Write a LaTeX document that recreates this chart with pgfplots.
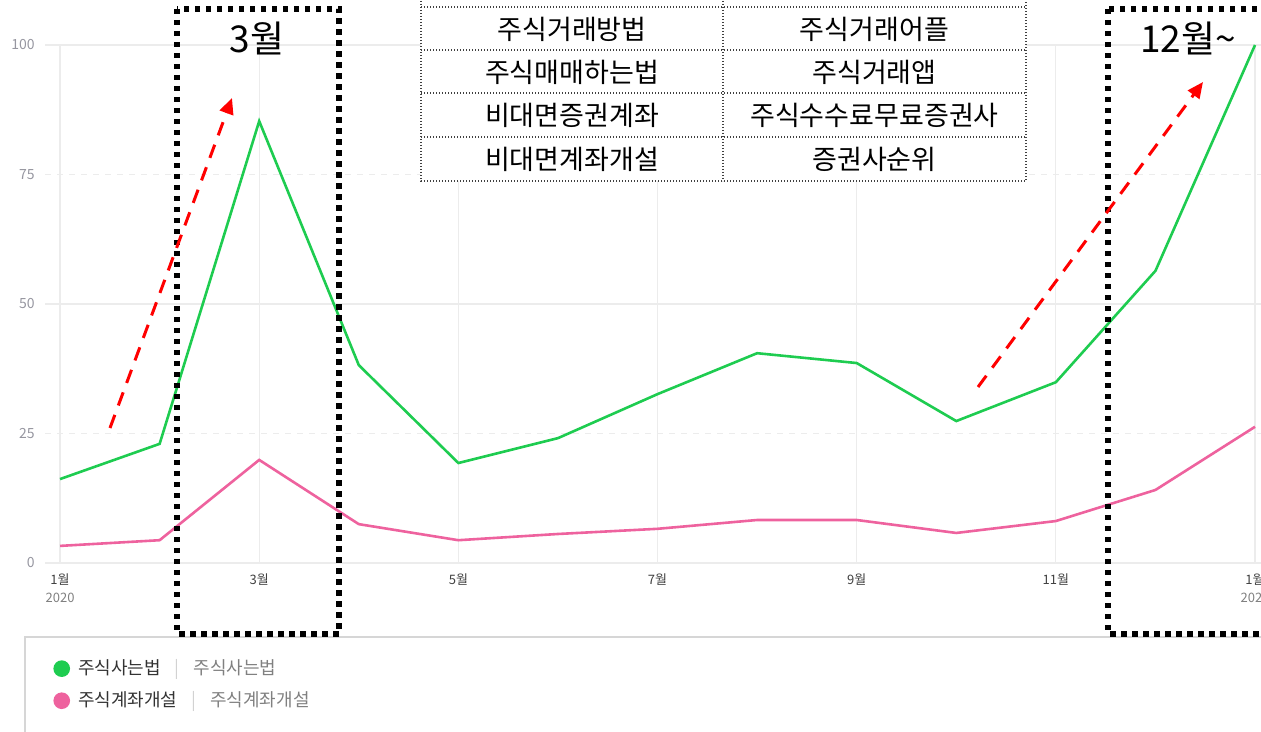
\documentclass[border=0pt]{standalone}
\usepackage{fontspec}
\setmainfont{Noto Sans CJK KR}
\usepackage{pgfplots}
\pgfplotsset{compat=1.18}
\usetikzlibrary{arrows.meta}
\definecolor{lgreen}{RGB}{30,204,80}
\definecolor{lpink}{RGB}{238,98,158}
\definecolor{gridc}{RGB}{236,236,236}
\definecolor{tickc}{RGB}{150,150,160}
\begin{document}
\begin{tikzpicture}
\useasboundingbox (0,0) rectangle (630.5pt,366pt);
\clip (0,0) rectangle (630.5pt,366pt);
\draw[gridc!80!gray, line width=0.6pt] (12.5pt,-10pt) -- (12.5pt,47.5pt) -- (640pt,47.5pt);
\begin{axis}[
  at={(22.5pt,84.5pt)}, anchor=south west, scale only axis,
  width=608pt, height=259pt,
  xmin=0.849, xmax=13.06, ymin=0, ymax=100,
  axis line style={draw=none},
  tick style={draw=none},
  xtick={1,3,5,7,9,11,13},
  xticklabels={{1월\\\textcolor{gray}{2020}},3월,5월,7월,9월,11월,{1월\\\textcolor{gray}{2021}}},
  xticklabel style={align=center, font=\fontsize{6.5}{9}\selectfont, text=black!75, inner sep=0pt, yshift=-5pt},
  ytick={0,50,100},
  extra y ticks={25,75},
  extra y tick style={grid style={gridc, dashed, line width=0.6pt}},
  grid=major,
  major grid style={gridc, line width=0.6pt},
  /pgf/number format/assume math mode=true,
  yticklabel style={font=\fontsize{7}{8}\selectfont, text=tickc, anchor=east, inner sep=0pt, xshift=-5pt},
  legend style={at={(0.0066,-0.178)}, anchor=north west, draw=none, fill=none,
    font=\fontsize{9}{10}\selectfont, row sep=3pt, inner sep=0pt,
    /tikz/every even column/.append style={column sep=5pt}},
  legend cell align=left,
  legend image code/.code={\fill[#1] (3.5pt,0pt) circle (3.5pt);},
]
\addplot[lgreen, line width=1.3pt] coordinates {
(1,16.2) (2,23.0) (3,85.3) (4,38.2) (5,19.3) (6,24.1) (7,32.6)
(8,40.5) (9,38.6) (10,27.4) (11,34.9) (12,56.4) (13,100)};
\addlegendentry{\hspace{2pt}\textcolor{black!80}{주식사는법}\hspace{7pt}\textcolor{gray!35}{|}\hspace{7pt}\textcolor{gray}{주식사는법}}
\addplot[lpink, line width=1.3pt] coordinates {
(1,3.3) (2,4.4) (3,19.9) (4,7.5) (5,4.4) (6,5.6) (7,6.6)
(8,8.3) (9,8.3) (10,5.8) (11,8.1) (12,14.1) (13,26.3)};
\addlegendentry{\hspace{2pt}\textcolor{black!80}{주식계좌개설}\hspace{7pt}\textcolor{gray!35}{|}\hspace{7pt}\textcolor{gray}{주식계좌개설}}
\end{axis}
\begin{scope}[x=0.5pt, y=-0.5pt, shift={(0,366pt)}]
  % table
  \fill[white] (421,-20) rectangle (1026,181);
  \begin{scope}[black!75, line width=0.6pt, dash pattern=on 0.6pt off 0.9pt]
    \draw (421,-20) rectangle (1026,181);
    \foreach \yy in {7,50,93,137} {\draw (421,\yy) -- (1026,\yy);}
    \draw (723,-20) -- (723,181);
  \end{scope}
  \begin{scope}[every node/.style={font=\fontsize{13.5}{15}\selectfont, text=black}]
    \node at (572,29) {주식거래방법};
    \node at (874.5,29) {주식거래어플};
    \node at (572,72) {주식매매하는법};
    \node at (874.5,72) {주식거래앱};
    \node at (572,115) {비대면증권계좌};
    \node at (874.5,115) {주식수수료무료증권사};
    \node at (572,159) {비대면계좌개설};
    \node at (874.5,159) {증권사순위};
  \end{scope}
  % dotted boxes
  \draw[line width=2.75pt, dash pattern=on 2.75pt off 2.75pt] (177,9) rectangle (339,634);
  \draw[line width=2.75pt, dash pattern=on 2.75pt off 2.75pt] (1108,9) rectangle (1300,634);
  \node[font=\fontsize{18.5}{20}\selectfont] at (257,38) {3월};
  \node[font=\fontsize{18.5}{20}\selectfont] at (1188,38) {12월\textasciitilde};
  % arrows
  \draw[red, line width=1.5pt, dash pattern=on 7pt off 5pt, -{Triangle[length=8pt,width=7pt]}] (110,428) -- (232,98);
  \draw[red, line width=1.5pt, dash pattern=on 7pt off 5pt, -{Triangle[length=8pt,width=7pt]}] (978,387) -- (1203,82);
\end{scope}
\end{tikzpicture}
\end{document}
